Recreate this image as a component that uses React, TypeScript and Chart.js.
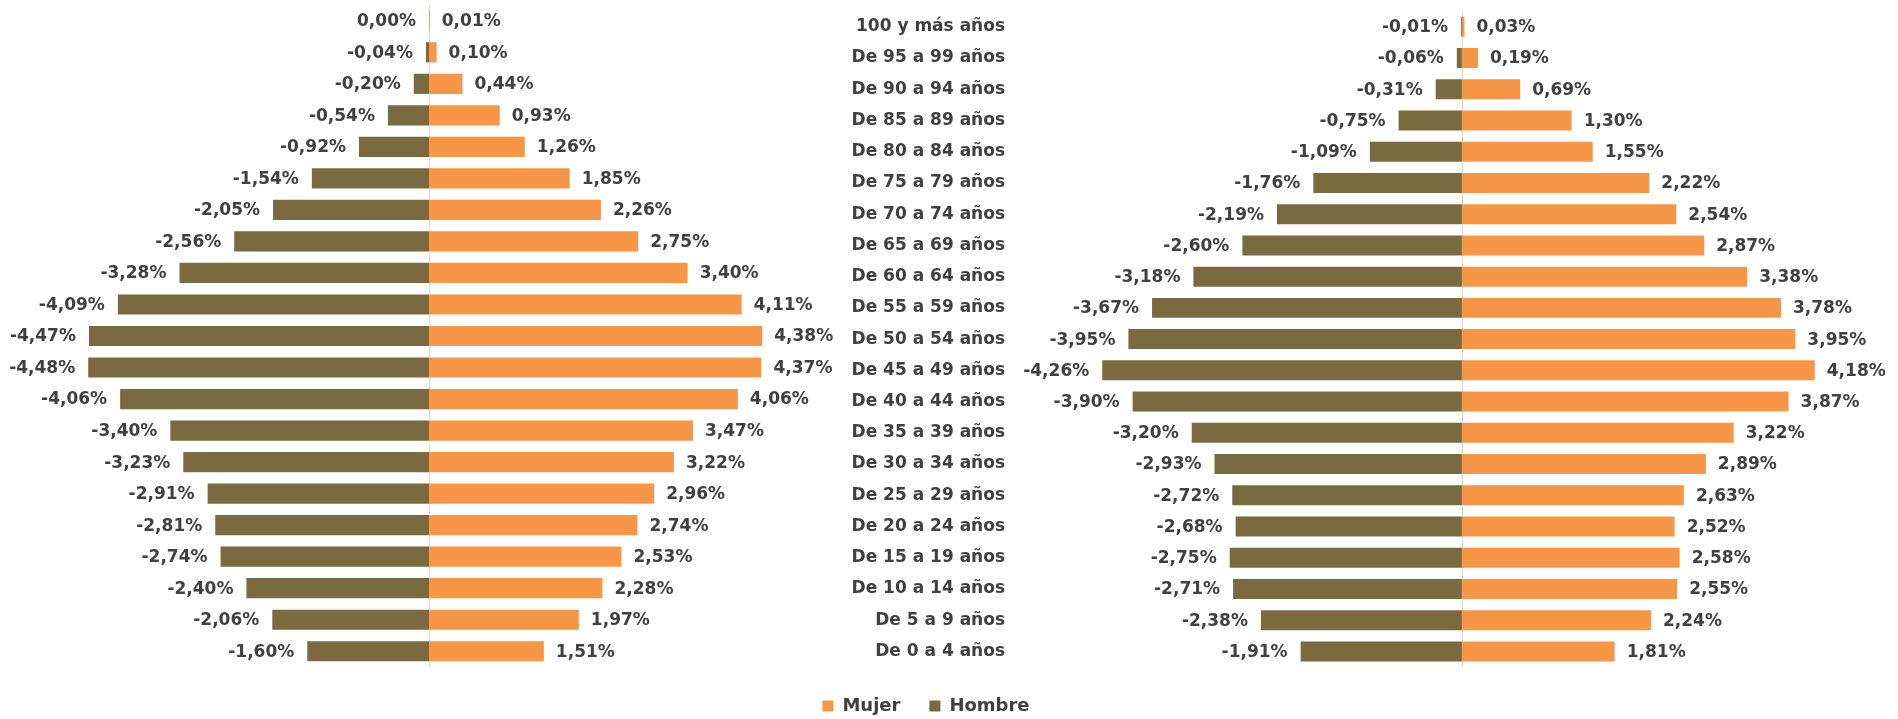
import { useEffect, useRef } from 'react';
import { Chart, registerables } from 'chart.js';

Chart.register(...registerables);

const categories = [
  '100 y más años', 'De 95 a 99 años', 'De 90 a 94 años', 'De 85 a 89 años',
  'De 80 a 84 años', 'De 75 a 79 años', 'De 70 a 74 años', 'De 65 a 69 años',
  'De 60 a 64 años', 'De 55 a 59 años', 'De 50 a 54 años', 'De 45 a 49 años',
  'De 40 a 44 años', 'De 35 a 39 años', 'De 30 a 34 años', 'De 25 a 29 años',
  'De 20 a 24 años', 'De 15 a 19 años', 'De 10 a 14 años', 'De 5 a 9 años',
  'De 0 a 4 años',
];

const hombreLeft = [0, -0.04, -0.2, -0.54, -0.92, -1.54, -2.05, -2.56, -3.28, -4.09, -4.47, -4.48, -4.06, -3.4, -3.23, -2.91, -2.81, -2.74, -2.4, -2.06, -1.6];
const mujerLeft = [0.01, 0.1, 0.44, 0.93, 1.26, 1.85, 2.26, 2.75, 3.4, 4.11, 4.38, 4.37, 4.06, 3.47, 3.22, 2.96, 2.74, 2.53, 2.28, 1.97, 1.51];

const hombreRight = [-0.01, -0.06, -0.31, -0.75, -1.09, -1.76, -2.19, -2.6, -3.18, -3.67, -3.95, -4.26, -3.9, -3.2, -2.93, -2.72, -2.68, -2.75, -2.71, -2.38, -1.91];
const mujerRight = [0.03, 0.19, 0.69, 1.3, 1.55, 2.22, 2.54, 2.87, 3.38, 3.78, 3.95, 4.18, 3.87, 3.22, 2.89, 2.63, 2.52, 2.58, 2.55, 2.24, 1.81];

const seriesNames = ['Mujer', 'Hombre'];

const MUJER = '#F79646';
const HOMBRE = '#7A6A3F';
const TEXT = '#404040';
const FONT = 'DejaVu Sans';

const fmt = (v: number) => v.toFixed(2).replace('.', ',') + '%';

const zeroLine = {
  id: 'zeroLine',
  beforeDatasetsDraw(chart: any) {
    const { ctx, chartArea } = chart;
    const x = Math.round(chart.scales.x.getPixelForValue(0)) + 0.5;
    ctx.save();
    ctx.strokeStyle = '#d9d9d9';
    ctx.lineWidth = 1;
    ctx.beginPath();
    ctx.moveTo(x, chartArea.top);
    ctx.lineTo(x, chartArea.bottom);
    ctx.stroke();
    ctx.restore();
  },
};

const valueLabels = {
  id: 'valueLabels',
  afterDatasetsDraw(chart: any) {
    const ctx = chart.ctx;
    ctx.save();
    ctx.font = `bold 17px "${FONT}"`;
    ctx.fillStyle = TEXT;
    ctx.textBaseline = 'middle';
    chart.data.datasets.forEach((ds: any, i: number) => {
      const meta = chart.getDatasetMeta(i);
      const isLeft = ds.label === 'Hombre';
      meta.data.forEach((el: any, j: number) => {
        const v = ds.data[j] as number;
        ctx.textAlign = isLeft ? 'right' : 'left';
        ctx.fillText(fmt(v), el.x + (isLeft ? -13 : 12), el.y + 1);
      });
    });
    ctx.restore();
  },
};

function makeConfig(hombre: number[], mujer: number[], showCats: boolean, xmin: number, xmax: number, padding: any) {
  const yScale: any = {
    stacked: true,
    display: showCats,
    position: 'left',
    grid: { display: false, drawTicks: false },
    border: { display: false },
    ticks: {
      autoSkip: false,
      crossAlign: 'near',
      padding: 1,
      color: TEXT,
      font: { family: FONT, size: 17, weight: 'bold' },
    },
  };
  if (showCats) {
    yScale.afterFit = (s: any) => { s.width = 170; };
  }
  return {
    type: 'bar' as const,
    data: {
      labels: categories,
      datasets: [
        { label: seriesNames[1], data: hombre, backgroundColor: HOMBRE, barPercentage: 0.64, categoryPercentage: 1 },
        { label: seriesNames[0], data: mujer, backgroundColor: MUJER, barPercentage: 0.64, categoryPercentage: 1 },
      ],
    },
    options: {
      indexAxis: 'y' as const,
      animation: false as const,
      responsive: false,
      maintainAspectRatio: false,
      layout: { padding },
      plugins: { legend: { display: false }, tooltip: { enabled: false } },
      scales: {
        x: { stacked: true, display: false, min: xmin, max: xmax },
        y: yScale,
      },
    },
    plugins: [zeroLine, valueLabels],
  };
}

export default function App() {
  const leftRef = useRef<HTMLCanvasElement>(null);
  const rightRef = useRef<HTMLCanvasElement>(null);
  const legendRef = useRef<HTMLCanvasElement>(null);

  useEffect(() => {
    const left = new Chart(leftRef.current!, makeConfig(hombreLeft, mujerLeft, false, -5.6, 5.6,
      { top: 5, bottom: 52, left: 3, right: 3 }) as any);
    const right = new Chart(rightRef.current!, makeConfig(hombreRight, mujerRight, true, -5.4, 5.0,
      { top: 5, bottom: 52, left: 0, right: 14 }) as any);
    const legend = new Chart(legendRef.current!, {
      type: 'bar',
      data: {
        labels: [],
        datasets: [
          { label: seriesNames[0], data: [], backgroundColor: MUJER },
          { label: seriesNames[1], data: [], backgroundColor: HOMBRE },
        ],
      },
      options: {
        animation: false,
        responsive: false,
        layout: { padding: 0 },
        scales: { x: { display: false }, y: { display: false } },
        plugins: {
          tooltip: { enabled: false },
          legend: {
            display: true,
            position: 'top',
            labels: {
              boxWidth: 11,
              boxHeight: 11,
              padding: 29,
              color: TEXT,
              font: { family: FONT, size: 18, weight: 'bold' },
            },
          },
        },
      },
    } as any);
    return () => { left.destroy(); right.destroy(); legend.destroy(); };
  }, []);

  return (
    <div style={{ position: 'absolute', left: 0, top: 0, width: 1898, height: 719, background: '#ffffff', overflow: 'hidden' }}>
      <canvas ref={leftRef} width={858} height={719} style={{ position: 'absolute', left: 0, top: 0, width: 858, height: 719 }} />
      <canvas ref={rightRef} width={1062} height={719} style={{ position: 'absolute', left: 836, top: 0, width: 1062, height: 719 }} />
      <canvas ref={legendRef} width={300} height={200} style={{ position: 'absolute', left: 776, top: 668, width: 300, height: 200 }} />
    </div>
  );
}
